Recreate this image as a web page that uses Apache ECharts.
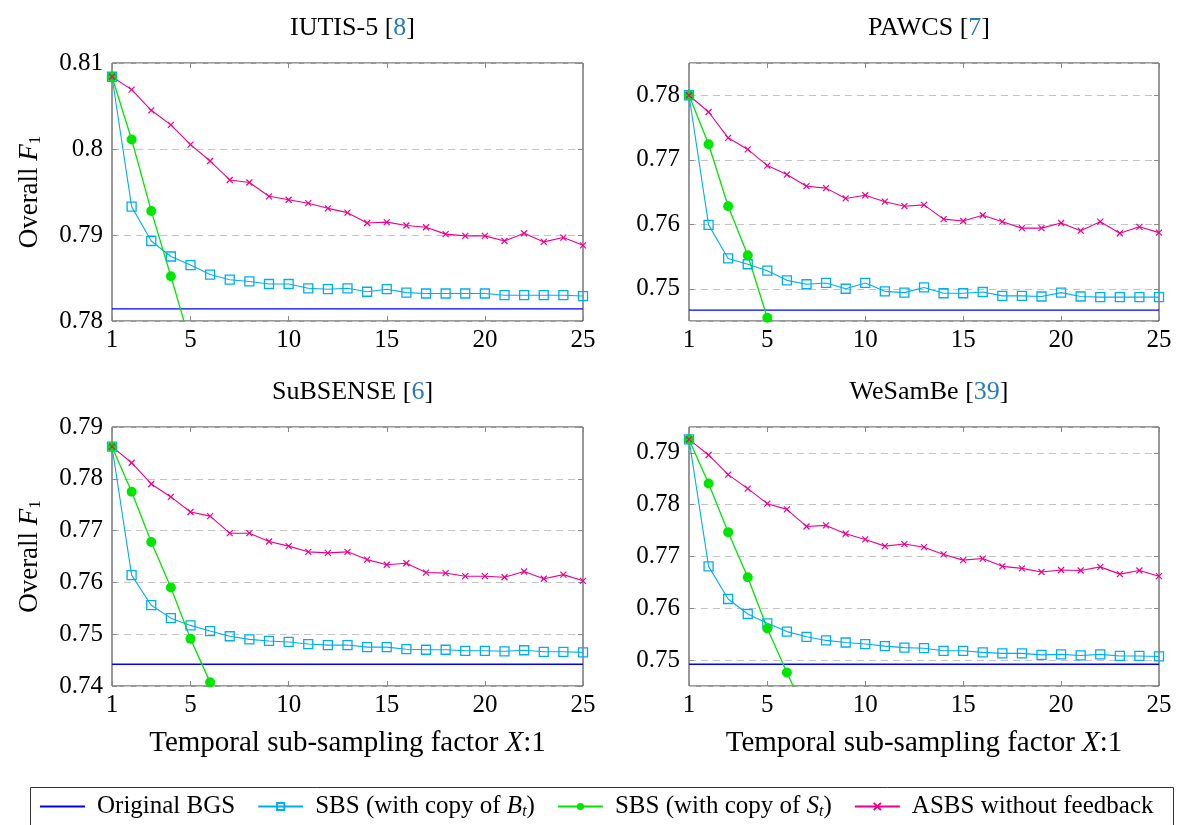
<!DOCTYPE html>
<html>
<head>
<meta charset="utf-8">
<script src="https://cdn.jsdelivr.net/npm/echarts@6/dist/echarts.min.js"></script>
<style>
  html, body { margin: 0; padding: 0; background: #fff; }
  #main { width: 1178px; height: 825px; }
</style>
</head>
<body>
<div id="main"></div>
<script>
// sub-sampling factor X:1
var FACTORS = [1, 2, 3, 4, 5, 6, 7, 8, 9, 10, 11, 12, 13, 14, 15, 16, 17, 18, 19, 20, 21, 22, 23, 24, 25];

// IUTIS-5
var iutisOrig = 0.7814;
var iutisB = [0.8084, 0.7933, 0.7893, 0.7875, 0.7865, 0.7854, 0.7848, 0.7846, 0.7843, 0.7843, 0.7838, 0.7837, 0.7838, 0.7834, 0.7837, 0.7833, 0.7832, 0.7832, 0.7832, 0.7832, 0.7830, 0.7830, 0.7830, 0.7830, 0.7829];
var iutisS = [0.8084, 0.8011, 0.7928, 0.7852, 0.7774];
var iutisA = [0.8084, 0.8069, 0.8045, 0.8028, 0.8005, 0.7986, 0.7964, 0.7961, 0.7945, 0.7941, 0.7937, 0.7931, 0.7926, 0.7914, 0.7915, 0.7911, 0.7909, 0.7901, 0.7899, 0.7899, 0.7893, 0.7902, 0.7892, 0.7897, 0.7888];

// PAWCS
var pawcsOrig = 0.7467;
var pawcsB = [0.7800, 0.7599, 0.7547, 0.7538, 0.7528, 0.7513, 0.7507, 0.7509, 0.7500, 0.7509, 0.7496, 0.7494, 0.7502, 0.7493, 0.7493, 0.7495, 0.7489, 0.7489, 0.7488, 0.7494, 0.7488, 0.7487, 0.7487, 0.7487, 0.7487];
var pawcsS = [0.7800, 0.7724, 0.7628, 0.7552, 0.7455];
var pawcsA = [0.7800, 0.7774, 0.7734, 0.7716, 0.7691, 0.7677, 0.7659, 0.7656, 0.7640, 0.7645, 0.7635, 0.7628, 0.7630, 0.7608, 0.7605, 0.7614, 0.7604, 0.7594, 0.7594, 0.7602, 0.7590, 0.7604, 0.7586, 0.7596, 0.7587];

// SuBSENSE
var subOrig = 0.7442;
var subB = [0.7862, 0.7614, 0.7556, 0.7531, 0.7517, 0.7506, 0.7496, 0.7490, 0.7487, 0.7485, 0.7481, 0.7479, 0.7479, 0.7475, 0.7475, 0.7471, 0.7470, 0.7470, 0.7468, 0.7468, 0.7467, 0.7469, 0.7466, 0.7466, 0.7465];
var subS = [0.7862, 0.7775, 0.7678, 0.7590, 0.7491, 0.7407];
var subA = [0.7862, 0.7831, 0.7790, 0.7765, 0.7736, 0.7728, 0.7695, 0.7695, 0.7679, 0.7670, 0.7659, 0.7657, 0.7659, 0.7644, 0.7634, 0.7637, 0.7619, 0.7618, 0.7612, 0.7612, 0.7610, 0.7621, 0.7607, 0.7615, 0.7603];

// WeSamBe
var wesOrig = 0.7492;
var wesB = [0.7926, 0.7681, 0.7618, 0.7589, 0.7571, 0.7555, 0.7545, 0.7538, 0.7534, 0.7531, 0.7527, 0.7524, 0.7523, 0.7518, 0.7518, 0.7515, 0.7513, 0.7513, 0.7510, 0.7511, 0.7509, 0.7511, 0.7508, 0.7508, 0.7507];
var wesS = [0.7926, 0.7841, 0.7747, 0.7660, 0.7561, 0.7476, 0.7394];
var wesA = [0.7926, 0.7896, 0.7858, 0.7831, 0.7802, 0.7791, 0.7758, 0.7760, 0.7744, 0.7733, 0.7720, 0.7724, 0.7718, 0.7704, 0.7693, 0.7696, 0.7681, 0.7677, 0.7670, 0.7674, 0.7673, 0.7680, 0.7666, 0.7673, 0.7662];

var chart = echarts.init(document.getElementById('main'));

var FONT = 'Liberation Serif';
var C_ORIG = '#0000ff', C_B = '#00aeef', C_S = '#00e600', C_A = '#ec008c';
var NAME_ORIG = 'Original BGS', NAME_B = 'SBS B', NAME_S = 'SBS S', NAME_A = 'ASBS without feedback';
var CROSS = 'path://M0,0L10,10M10,0L0,10';

// 面板：标题、编号、y轴范围、网格位置
var panels = [
    { title: 'IUTIS-5', ref: '8', min: 0.78, max: 0.81, orig: iutisOrig, B: iutisB, S: iutisS, A: iutisA, left: 112, top: 63, width: 471, height: 258 },
    { title: 'PAWCS', ref: '7', min: 0.745, max: 0.785, orig: pawcsOrig, B: pawcsB, S: pawcsS, A: pawcsA, left: 689, top: 63, width: 470, height: 258 },
    { title: 'SuBSENSE', ref: '6', min: 0.74, max: 0.79, orig: subOrig, B: subB, S: subS, A: subA, left: 112, top: 427, width: 471, height: 259 },
    { title: 'WeSamBe', ref: '39', min: 0.745, max: 0.795, orig: wesOrig, B: wesB, S: wesS, A: wesA, left: 689, top: 427, width: 470, height: 259 }
];

function pairs(vals) {
    var res = [];
    for (var i = 0; i < vals.length; i++) {
        res.push([FACTORS[i], vals[i]]);
    }
    return res;
}

var grids = [], xAxes = [], yAxes = [], series = [], titles = [];
var tickStyle = { inside: true, length: 5, lineStyle: { color: '#8a8a8a', width: 1 } };

panels.forEach(function (p, k) {
    grids.push({ left: p.left, top: p.top, width: p.width, height: p.height, show: true, borderColor: '#333', borderWidth: 1, backgroundColor: 'transparent' });
    titles.push({
        text: '{n|' + p.title + ' [}{c|' + p.ref + '}{n|]}',
        left: p.left + p.width / 2,
        top: p.top - 53,
        textAlign: 'center',
        textStyle: {
            fontWeight: 'normal',
            rich: {
                n: { fontFamily: FONT, fontSize: 26, fontWeight: 'normal', color: '#000' },
                c: { fontFamily: FONT, fontSize: 26, fontWeight: 'normal', color: '#2a7ab8' }
            }
        }
    });
    var bottomRow = k >= 2, leftCol = (k % 2 === 0);
    var nice = (p.min * 100) % 1 === 0;
    // 底部x轴（带标签）
    xAxes.push({
        type: 'value', gridIndex: k, min: 1, max: 25, position: 'bottom',
        axisLine: { show: false }, axisTick: tickStyle, splitLine: { show: false },
        axisLabel: { color: '#000', fontFamily: FONT, fontSize: 25, margin: 7 },
        name: bottomRow ? '{n|Temporal sub-sampling factor }{i|X}{n|:1}' : '',
        nameLocation: 'middle', nameGap: 43,
        nameTextStyle: { rich: { n: { fontFamily: FONT, fontSize: 29, color: '#000' }, i: { fontFamily: FONT, fontStyle: 'italic', fontSize: 29, color: '#000' } } }
    });
    // 顶部x轴，只画刻度
    xAxes.push({
        type: 'value', gridIndex: k, min: 1, max: 25, position: 'top',
        axisLine: { show: false }, axisTick: tickStyle, splitLine: { show: false }, axisLabel: { show: false }
    });
    var yMain = {
        type: 'value', gridIndex: k, min: p.min, max: p.max, position: 'left',
        axisLine: { show: false }, axisTick: tickStyle,
        splitLine: { show: true, lineStyle: { color: '#c4c4c4', type: [7, 5], width: 1 } },
        axisLabel: { color: '#000', fontFamily: FONT, fontSize: 25, margin: 9 },
        name: leftCol ? '{n|Overall }{i|F}{s|1}' : '',
        nameLocation: 'middle', nameGap: 68, nameRotate: 90,
        nameTextStyle: { rich: { n: { fontFamily: FONT, fontSize: 27, color: '#000' }, i: { fontFamily: FONT, fontStyle: 'italic', fontSize: 27, color: '#000' }, s: { fontFamily: FONT, fontSize: 17, color: '#000', verticalAlign: 'bottom', padding: [12, 0, 0, 0] } } }
    };
    if (nice) {
        yMain.interval = 0.01;
    } else {
        yMain.splitNumber = Math.round((p.max - p.min) * 100);
        yMain.axisLabel.showMinLabel = false;
        yMain.axisLabel.showMaxLabel = false;
    }
    yAxes.push(yMain);
    var yRight = { type: 'value', gridIndex: k, min: p.min, max: p.max, position: 'right', axisLine: { show: false }, axisTick: tickStyle, splitLine: { show: false }, axisLabel: { show: false } };
    if (nice) { yRight.interval = 0.01; } else { yRight.splitNumber = yMain.splitNumber; }
    yAxes.push(yRight);

    var xi = k * 2, yi = k * 2;
    series.push({
        name: NAME_ORIG, type: 'line', xAxisIndex: xi, yAxisIndex: yi,
        data: [[FACTORS[0], p.orig], [FACTORS[FACTORS.length - 1], p.orig]],
        symbol: 'none', lineStyle: { color: C_ORIG, width: 1.3 }, itemStyle: { color: C_ORIG },
        animation: false, silent: true
    });
    series.push({
        name: NAME_B, type: 'line', xAxisIndex: xi, yAxisIndex: yi, data: pairs(p.B),
        symbol: 'rect', symbolSize: 9,
        lineStyle: { color: C_B, width: 1.1 },
        itemStyle: { color: 'rgba(255,255,255,0)', borderColor: C_B, borderWidth: 1.3 },
        animation: false, silent: true
    });
    series.push({
        name: NAME_S, type: 'line', xAxisIndex: xi, yAxisIndex: yi, data: pairs(p.S),
        symbol: 'circle', symbolSize: 10,
        lineStyle: { color: C_S, width: 1.3 },
        itemStyle: { color: C_S, borderWidth: 0 },
        animation: false, silent: true
    });
    series.push({
        name: NAME_A, type: 'line', xAxisIndex: xi, yAxisIndex: yi, data: pairs(p.A),
        symbol: CROSS, symbolSize: 6,
        lineStyle: { color: C_A, width: 1.1 },
        itemStyle: { color: C_A, borderColor: C_A, borderWidth: 1.2 },
        animation: false, silent: true
    });
});

var legendRich = {
    n: { fontFamily: FONT, fontSize: 25, color: '#000' },
    i: { fontFamily: FONT, fontSize: 25, fontStyle: 'italic', color: '#000' },
    s: { fontFamily: FONT, fontSize: 16, fontStyle: 'italic', color: '#000', verticalAlign: 'bottom', padding: [10, 0, 0, 0] }
};

var option = {
    backgroundColor: '#fff',
    animation: false,
    title: titles,
    grid: grids,
    xAxis: xAxes,
    yAxis: yAxes,
    series: series,
    legend: {
        data: [
            { name: NAME_ORIG, itemStyle: { color: 'rgba(0,0,0,0)', borderWidth: 0 } },
            NAME_B, NAME_S, NAME_A
        ],
        left: 39, top: 794, padding: 0,
        itemWidth: 45, itemHeight: 9, itemGap: 22,
        textStyle: { rich: legendRich, padding: [0, 0, 0, 7] },
        formatter: function (name) {
            if (name === NAME_B) return '{n|SBS (with copy of }{i|B}{s|t}{n|)}';
            if (name === NAME_S) return '{n|SBS (with copy of }{i|S}{s|t}{n|)}';
            return '{n|' + name + '}';
        }
    },
    graphic: [{
        type: 'rect', left: 28, top: 785,
        shape: { width: 1143, height: 50 },
        style: { fill: 'none', stroke: '#333', lineWidth: 1 }, silent: true
    }]
};

chart.setOption(option);
</script>
</body>
</html>
